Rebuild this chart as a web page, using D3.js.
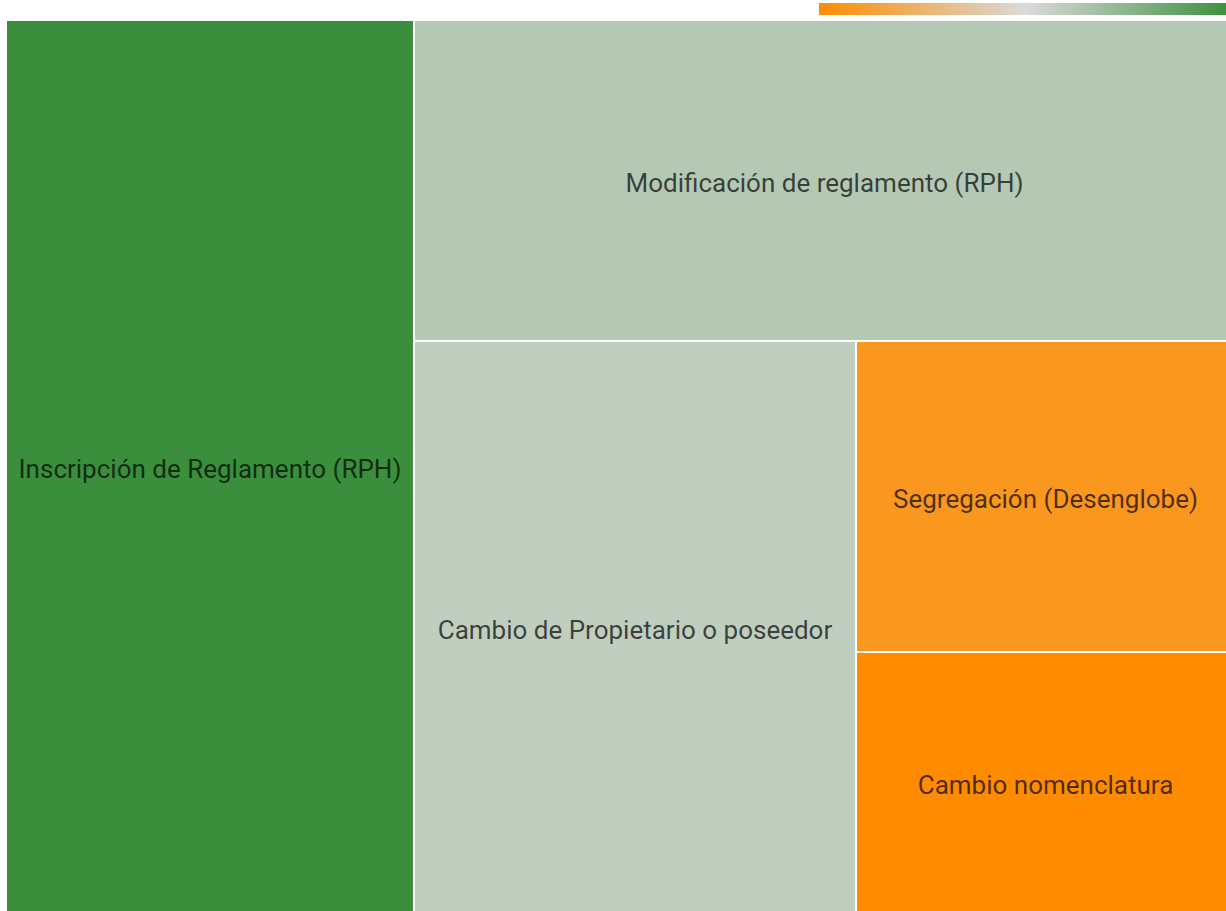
<!DOCTYPE html>
<html>
<head>
<meta charset="utf-8">
<script src="https://cdn.jsdelivr.net/npm/d3@7"></script>
<style>
  html, body { margin: 0; padding: 0; background: #ffffff; overflow: hidden; }
  svg { display: block; }
</style>
</head>
<body>
<svg id="chart" width="1226" height="911"></svg>
<script>
// Tipos de trámite y número de solicitudes
const categories = [
  "Inscripción de Reglamento (RPH)",
  "Modificación de reglamento (RPH)",
  "Cambio de Propietario o poseedor",
  "Segregación (Desenglobe)",
  "Cambio nomenclatura"
];
const values = [368, 266, 256, 119, 100];

// Colores de la escala (mínimo → medio → máximo)
const scaleColors = ["#ff8c00", "#dadada", "#3a8e3c"];

const svg = d3.select("#chart");

// Escala de color continua
const vMin = d3.min(values), vMax = d3.max(values);
const color = d3.scaleLinear()
  .domain([vMin, (vMin + vMax) / 2, vMax])
  .range(scaleColors)
  .interpolate(d3.interpolateRgb);

// Leyenda: barra de degradado
const defs = svg.append("defs");
const grad = defs.append("linearGradient").attr("id", "legendGrad")
  .attr("x1", "0%").attr("x2", "100%");
d3.range(0, 1.0001, 0.1).forEach(t => {
  grad.append("stop")
    .attr("offset", (t * 100) + "%")
    .attr("stop-color", color(vMin + t * (vMax - vMin)));
});
const legendX = d3.scaleLinear().domain([vMin, vMax]).range([819, 1233]);
svg.append("rect")
  .attr("x", legendX(vMin)).attr("y", 3)
  .attr("width", legendX(vMax) - legendX(vMin)).attr("height", 12)
  .attr("fill", "url(#legendGrad)");

// Mosaico: cada nodo toma su parte a lo largo del lado más largo del espacio restante
function tileGreedy(parent, x0, y0, x1, y1) {
  const nodes = parent.children;
  let total = parent.value;
  nodes.forEach((node, i) => {
    if (i === nodes.length - 1) {
      node.x0 = x0; node.y0 = y0; node.x1 = x1; node.y1 = y1;
      return;
    }
    const k = total ? node.value / total : 0;
    if (x1 - x0 >= y1 - y0) {
      const w = (x1 - x0) * k;
      node.x0 = x0; node.x1 = x0 + w; node.y0 = y0; node.y1 = y1;
      x0 += w;
    } else {
      const h = (y1 - y0) * k;
      node.y0 = y0; node.y1 = y0 + h; node.x0 = x0; node.x1 = x1;
      y0 += h;
    }
    total -= node.value;
  });
}

const data = { name: "root", children: categories.map((c, i) => ({ name: c, value: values[i] })) };
const root = d3.hierarchy(data).sum(d => d.value || 0).sort((a, b) => b.value - a.value);

d3.treemap()
  .tile(tileGreedy)
  .size([1227, 892])
  .paddingInner(2)
  .round(true)(root);

const g = svg.append("g").attr("transform", "translate(7,21)");

const cell = g.selectAll("g.cell")
  .data(root.leaves())
  .join("g")
  .attr("class", "cell")
  .attr("transform", d => `translate(${d.x0},${d.y0})`);

cell.append("rect")
  .attr("width", d => d.x1 - d.x0)
  .attr("height", d => d.y1 - d.y0)
  .attr("fill", d => color(d.data.value));

cell.append("text")
  .attr("x", d => (d.x1 - d.x0) / 2)
  .attr("y", d => (d.y1 - d.y0) / 2 + 2)
  .attr("text-anchor", "middle")
  .attr("dominant-baseline", "central")
  .attr("font-family", "Roboto, sans-serif")
  .attr("font-size", 26)
  .attr("fill", "#000")
  .attr("fill-opacity", 0.7)
  .text(d => d.data.name);
</script>
</body>
</html>
